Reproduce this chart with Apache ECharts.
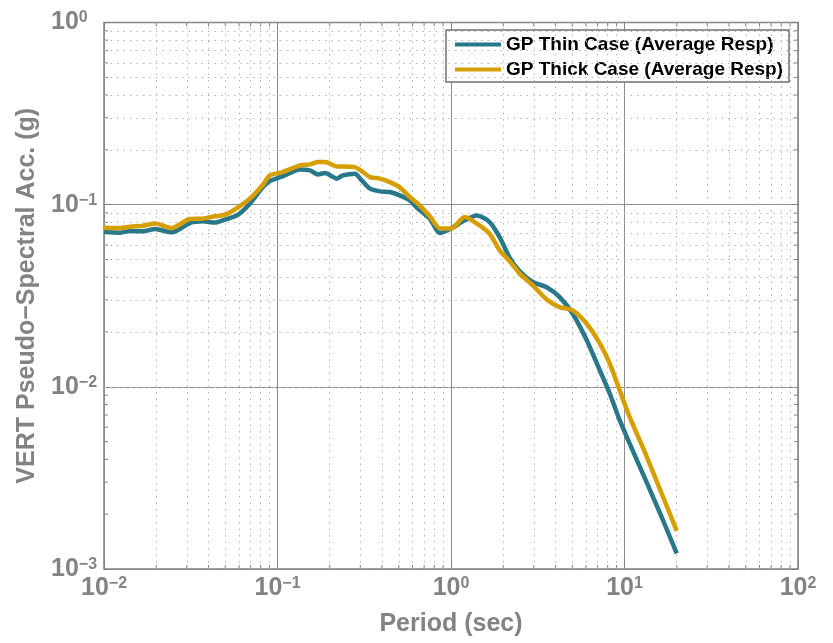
<!DOCTYPE html>
<html>
<head>
<meta charset="utf-8">
<script src="https://cdn.jsdelivr.net/npm/echarts@6/dist/echarts.min.js"></script>
<style>
  html, body { margin: 0; padding: 0; background: #fff; }
  #chart { width: 833px; height: 643px; }
</style>
</head>
<body>
<div id="chart"></div>
<script>
// Vertical pseudo-spectral acceleration, average response of the two GP cases
const periods = [
  0.01, 0.0124, 0.0141, 0.0168, 0.0197, 0.0246, 0.0313, 0.0372, 0.0436, 0.0498,
  0.0584, 0.0693, 0.0824, 0.0904, 0.107, 0.135, 0.154, 0.171, 0.188, 0.22,
  0.238, 0.279, 0.306, 0.341, 0.389, 0.444, 0.507, 0.579, 0.644, 0.755,
  0.862, 1.0, 1.2, 1.41, 1.67, 1.91, 2.18, 2.49, 2.96, 3.56,
  4.23, 5.03, 6.06, 7.2, 8.22, 9.38, 10.7, 13.1, 16.0, 20.0
];
const thinResp = [
  0.0707, 0.0702, 0.0716, 0.0714, 0.0735, 0.0705, 0.0793, 0.0810, 0.0797, 0.0828,
  0.0873, 0.1013, 0.1249, 0.1348, 0.1429, 0.1562, 0.1542, 0.1466, 0.1491, 0.1389,
  0.1448, 0.1479, 0.1359, 0.1224, 0.1183, 0.1173, 0.1125, 0.1056, 0.0951, 0.0838,
  0.0698, 0.0739, 0.0820, 0.0873, 0.0803, 0.0662, 0.0511, 0.0431, 0.0376, 0.0352,
  0.0311, 0.0252, 0.0180, 0.01233, 0.00919, 0.00656, 0.00489, 0.00315, 0.00203, 0.00122
];
const thickResp = [
  0.0748, 0.0744, 0.0757, 0.0767, 0.0789, 0.0744, 0.0834, 0.0838, 0.0863, 0.0881,
  0.0958, 0.1079, 0.1287, 0.1448, 0.1510, 0.1643, 0.1664, 0.1713, 0.1713, 0.1622,
  0.1622, 0.1608, 0.1529, 0.1417, 0.1389, 0.1330, 0.1244, 0.1101, 0.1013, 0.0863,
  0.0741, 0.0739, 0.0855, 0.0787, 0.0693, 0.0561, 0.0489, 0.0418, 0.0361, 0.0302,
  0.0274, 0.0263, 0.0222, 0.0173, 0.0134, 0.00958, 0.00684, 0.00438, 0.00274, 0.00162
];
const seriesNames = ['GP Thin Case (Average Resp)', 'GP Thick Case (Average Resp)'];
const xDecades = [0.01, 0.1, 1, 10];
const yDecades = [0.001, 0.01, 0.1];

const FONT = '"Liberation Sans", Arial, Helvetica, sans-serif';
const GREY_TEXT = '#838383';
const BOX = '#808080';

// 2..9 positions inside each decade for the dotted minor grid
const minorX = [];
xDecades.forEach(d => { for (let k = 2; k <= 9; k++) minorX.push(+(d * k).toPrecision(3)); });
const minorY = [];
yDecades.forEach(d => { for (let k = 2; k <= 9; k++) minorY.push(+(d * k).toPrecision(3)); });

const tickMarks = minorX.map(v => [v, 1, 0]).concat(minorY.map(v => [1, v, 1]));

// "10" with a superscript exponent
function powerLabel(value) {
  const e = Math.round(Math.log10(value));
  const exp = e < 0 ? '\u2212' + Math.abs(e) : String(e);
  return '{b|10}{s|' + exp + '}';
}
const richPow = {
  b: { fontSize: 25, fontWeight: 'bold', color: GREY_TEXT, fontFamily: FONT,
       lineHeight: 25, padding: [10, 0, 0, 0], verticalAlign: 'bottom' },
  s: { fontSize: 16, fontWeight: 'bold', color: GREY_TEXT, fontFamily: FONT,
       lineHeight: 16, verticalAlign: 'top' }
};

const chart = echarts.init(document.getElementById('chart'), null, { renderer: 'canvas' });

const option = {
  animation: false,
  backgroundColor: '#fff',
  grid: {
    left: 104, right: 35, top: 22, bottom: 74, containLabel: false,
    show: true, borderColor: BOX, borderWidth: 1.5, backgroundColor: '#fff'
  },
  legend: {
    orient: 'vertical',
    left: 446, top: 30,
    padding: [5, 6, 3, 9],
    itemWidth: 46, itemHeight: 4, itemGap: 6,
    icon: 'rect',
    backgroundColor: '#fff',
    borderColor: '#707070', borderWidth: 1.5,
    textStyle: { fontSize: 19, fontWeight: 'bold', color: '#000', fontFamily: FONT },
    data: seriesNames
  },
  xAxis: [
    {
      type: 'log', logBase: 10, min: 0.01, max: 100,
      position: 'bottom',
      name: 'Period (sec)', nameLocation: 'middle', nameGap: 43,
      nameTextStyle: { fontSize: 25, fontWeight: 'bold', color: GREY_TEXT, fontFamily: FONT },
      axisLine: { show: false },
      axisTick: { show: true, inside: true, length: 7, lineStyle: { color: BOX, width: 1 } },
      axisLabel: { margin: 7, formatter: powerLabel, rich: richPow },
      splitLine: { show: true, lineStyle: { color: '#8c8c8c', width: 1 } }
    },
    {
      type: 'log', logBase: 10, min: 0.01, max: 100,
      position: 'top',
      axisLine: { show: false },
      axisTick: { show: true, inside: true, length: 7, lineStyle: { color: BOX, width: 1 } },
      axisLabel: { show: false },
      splitLine: { show: false }
    }
  ],
  yAxis: [
    {
      type: 'log', logBase: 10, min: 0.001, max: 1,
      position: 'left',
      name: 'VERT Pseudo\u2212Spectral Acc. (g)', nameLocation: 'middle', nameGap: 61,
      nameTextStyle: { fontSize: 25, fontWeight: 'bold', color: GREY_TEXT, fontFamily: FONT },
      axisLine: { show: false },
      axisTick: { show: true, inside: true, length: 7, lineStyle: { color: BOX, width: 1 } },
      axisLabel: { margin: 53, align: 'left', formatter: powerLabel, rich: richPow },
      splitLine: { show: true, lineStyle: { color: '#8c8c8c', width: 1 } }
    },
    {
      type: 'log', logBase: 10, min: 0.001, max: 1,
      position: 'right',
      axisLine: { show: false },
      axisTick: { show: true, inside: true, length: 7, lineStyle: { color: BOX, width: 1 } },
      axisLabel: { show: false },
      splitLine: { show: false }
    }
  ],
  series: [
    {
      // dotted minor grid at 2..9 of each decade
      name: 'minorGrid',
      type: 'line',
      data: [],
      silent: true,
      z: 1,
      markLine: {
        silent: true,
        symbol: 'none',
        label: { show: false },
        animation: false,
        lineStyle: { color: '#b4b4b4', width: 1, type: [1.5, 5] },
        data: minorX.map(v => ({ xAxis: v })).concat(minorY.map(v => ({ yAxis: v })))
      }
    },
    {
      // short inside tick marks for the minor positions on all four edges
      name: 'minorTicks',
      type: 'custom',
      silent: true,
      z: 3,
      data: tickMarks,
      renderItem: function (params, api) {
        const cs = params.coordSys;
        const kind = api.value(2);
        const st = { stroke: BOX, lineWidth: 1 };
        const len = 4;
        if (kind === 0) {
          const x = api.coord([api.value(0), 1])[0];
          const yb = cs.y + cs.height;
          return { type: 'group', children: [
            { type: 'line', shape: { x1: x, y1: yb, x2: x, y2: yb - len }, style: st },
            { type: 'line', shape: { x1: x, y1: cs.y, x2: x, y2: cs.y + len }, style: st }
          ] };
        }
        const y = api.coord([1, api.value(1)])[1];
        const xr = cs.x + cs.width;
        return { type: 'group', children: [
          { type: 'line', shape: { x1: cs.x, y1: y, x2: cs.x + len, y2: y }, style: st },
          { type: 'line', shape: { x1: xr, y1: y, x2: xr - len, y2: y }, style: st }
        ] };
      }
    },
    {
      name: seriesNames[0],
      type: 'line',
      data: periods.map((p, i) => [p, thinResp[i]]),
      showSymbol: false,
      smooth: 0.25,
      z: 5,
      lineStyle: { color: '#28788A', width: 4.5 },
      itemStyle: { color: '#28788A' }
    },
    {
      name: seriesNames[1],
      type: 'line',
      data: periods.map((p, i) => [p, thickResp[i]]),
      showSymbol: false,
      smooth: 0.25,
      z: 6,
      lineStyle: { color: '#D69E00', width: 4.5 },
      itemStyle: { color: '#D69E00' }
    }
  ]
};

chart.setOption(option);
</script>
</body>
</html>
